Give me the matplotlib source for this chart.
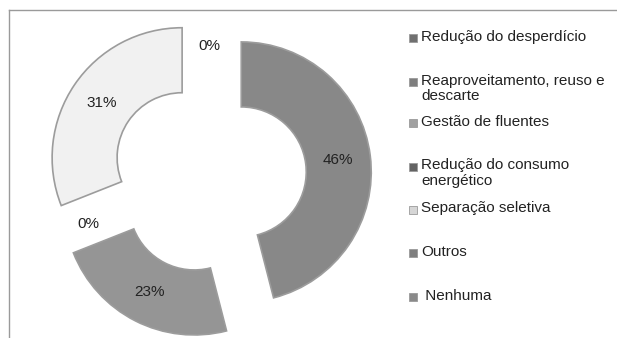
import matplotlib
matplotlib.use("Agg")
import matplotlib.pyplot as plt
from matplotlib.lines import Line2D

plt.rcParams['font.family'] = ['Liberation Sans', 'DejaVu Sans']

categories = ["Redução do desperdício", "Reaproveitamento, reuso e\ndescarte",
              "Gestão de fluentes", "Redução do consumo\nenergético",
              "Separação seletiva", "Outros", " Nenhuma"]
values = [46, 0, 23, 0, 31, 0, 0]
show_label = [True, False, True, True, True, True, False]
slice_colors = ["#888888", "#8a8a8a", "#959595", "#707070", "#f1f1f1", "#8a8a8a", "#8a8a8a"]
legend_colors = ["#707070", "#7e7e7e", "#a0a0a0", "#636363", "#d6d6d6", "#7e7e7e", "#8a8a8a"]

W, H = 617, 338
fig = plt.figure(figsize=(W / 100, H / 100), dpi=100)
ax = fig.add_axes([0, 0, 1, 1])

cx, cy, R = 209, 176, 130
wedges, texts, autotexts = ax.pie(
    values, colors=slice_colors, startangle=90, counterclock=False,
    radius=1.0, explode=[0.25] * len(values), pctdistance=0.75,
    autopct=lambda p: f"{p:.0f}%",
    wedgeprops=dict(width=0.5, edgecolor="#9c9c9c", linewidth=1.2),
    textprops=dict(fontsize=11, color="#222222"))
for w, t, s, v in zip(wedges, autotexts, show_label, values):
    if not s:
        t.set_text("")
    if v == 0:
        w.set_linewidth(0)
        w.set_visible(False)

ax.set_aspect('auto')
ax.set_xlim(-cx / R, (W - cx) / R)
ax.set_ylim(-(H - cy) / R, cy / R)
ax.axis('off')

# legend (manual placement to match reference)
legend_y = [38, 82, 123, 167, 210, 253, 297]
for lab, col, y in zip(categories, legend_colors, legend_y):
    fy = 1 - y / H
    fig.add_artist(Line2D([413 / W], [fy], marker='s', markersize=6,
                          markerfacecolor=col, markeredgecolor="#9a9a9a",
                          markeredgewidth=0.6, linestyle='none',
                          transform=fig.transFigure))
    fig.text(421 / W, fy + 8.5 / H, lab, fontsize=11, color="#222222",
             va='top', ha='left', linespacing=1.12)

# frame lines (top and left)
fig.add_artist(Line2D([9 / W, 1], [1 - 10 / H, 1 - 10 / H], color="#9a9a9a", lw=1,
                      transform=fig.transFigure))
fig.add_artist(Line2D([9 / W, 9 / W], [1 - 10 / H, 0], color="#9a9a9a", lw=1,
                      transform=fig.transFigure))

fig.savefig("out.png", dpi=100)
